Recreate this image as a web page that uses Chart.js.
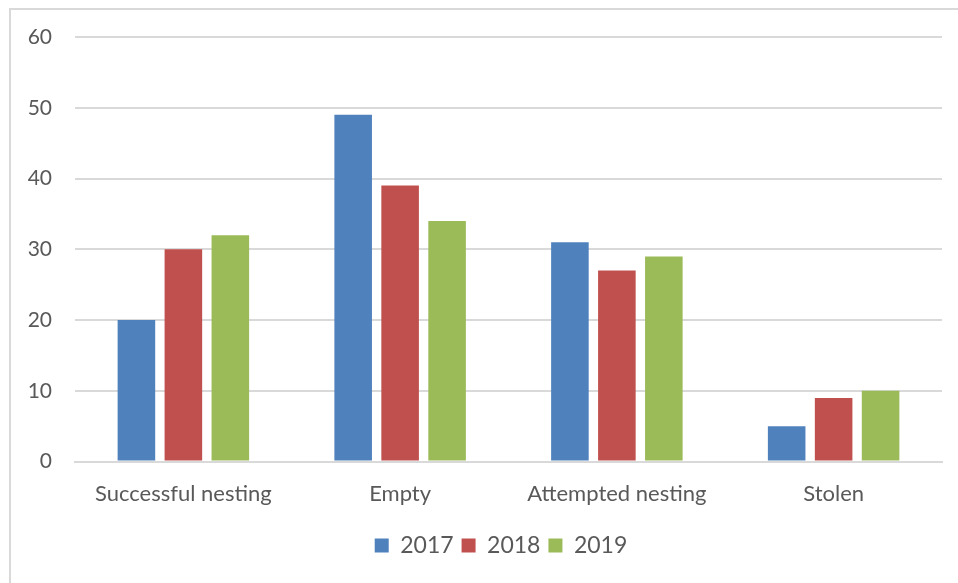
<!DOCTYPE html>
<html>
<head>
<meta charset="utf-8">
<script src="https://cdn.jsdelivr.net/npm/chart.js@4"></script>
<style>
  html, body { margin: 0; padding: 0; background: #fff; }
  #wrap { position: relative; width: 958px; height: 583px; overflow: hidden; }
  #frame { position: absolute; left: 9px; top: 8px; right: -4px; bottom: -4px;
           border-top: 2px solid #d9d9d9; border-left: 2px solid #d9d9d9; }
  canvas { position: absolute; left: 0; top: 0; }
</style>
</head>
<body>
<div id="wrap">
  <div id="frame"></div>
  <canvas id="barChart" width="958" height="583"></canvas>
</div>
<script>
  // Categories and values
  var categories = ['Successful nesting', 'Empty', 'Attempted nesting', 'Stolen'];
  var values2017 = [20, 49, 31, 5];
  var values2018 = [30, 39, 27, 9];
  var values2019 = [32, 34, 29, 10];
  var yTicks = [0, 10, 20, 30, 40, 50, 60];

  var textColor = '#595959';
  var gridColor = '#d9d9d9';

  var data = {
    labels: categories,
    datasets: [
      { label: '2017', data: values2017, backgroundColor: '#4f81bd' },
      { label: '2018', data: values2018, backgroundColor: '#c0504d' },
      { label: '2019', data: values2019, backgroundColor: '#9bbb59' }
    ]
  };

  // Nudge the legend a little to the right, like in the original
  var legendShift = {
    id: 'legendShift',
    afterLayout: function (chart) {
      if (chart.legend) chart.legend.left += 32;
    }
  };

  var options = {
    responsive: false,
    animation: false,
    categoryPercentage: 0.65,
    barPercentage: 0.8,
    layout: { padding: { top: 37, left: 28, right: 16, bottom: 16 } },
    scales: {
      x: {
        grid: { display: false },
        border: { display: true, color: gridColor, width: 2 },
        ticks: { color: textColor, font: { family: 'Lato', size: 22 }, padding: 11 },
        afterFit: function (axis) {
          axis.height += 8;
          axis.paddingLeft = 0;
          axis.paddingRight = 0;
        }
      },
      y: {
        min: 0,
        max: 60,
        afterBuildTicks: function (axis) {
          axis.ticks = yTicks.map(function (v) { return { value: v }; });
        },
        afterFit: function (axis) { axis.width = 47; },
        grid: { color: gridColor, lineWidth: 2, drawTicks: false },
        border: { display: false },
        ticks: { color: textColor, font: { family: 'Lato', size: 21 }, padding: 23 }
      }
    },
    plugins: {
      legend: {
        position: 'bottom',
        labels: {
          color: textColor,
          font: { family: 'Lato', size: 23 },
          boxWidth: 14,
          boxHeight: 14,
          padding: 8
        }
      },
      tooltip: { enabled: false }
    }
  };

  var ctx = document.getElementById('barChart').getContext('2d');
  var barChart = new Chart(ctx, { type: 'bar', data: data, options: options, plugins: [legendShift] });
</script>
</body>
</html>
